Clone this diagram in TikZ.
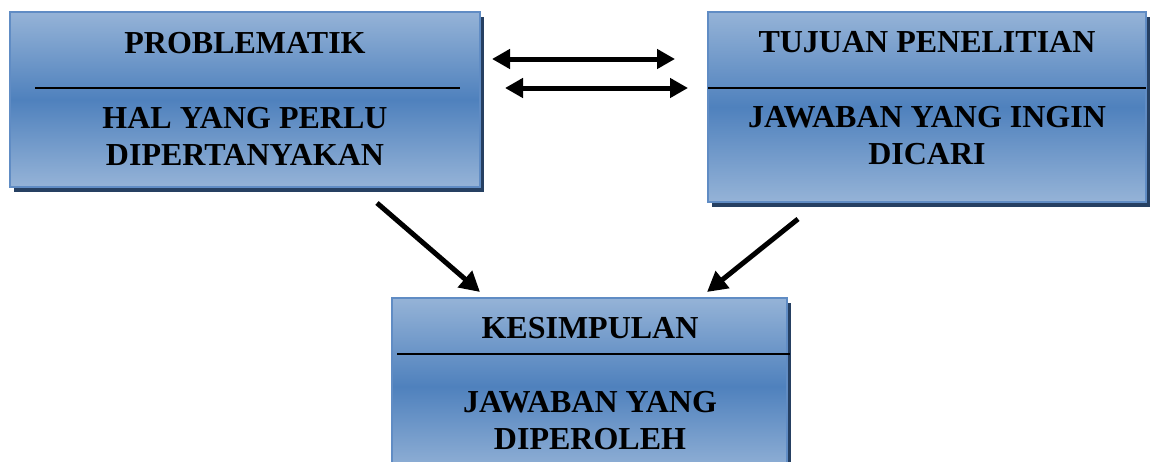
\documentclass[tikz,border=0pt]{standalone}
\usepackage{fontspec}
\setmainfont{Liberation Serif}
\usetikzlibrary{arrows.meta,shadows}
\definecolor{boxlight}{RGB}{149,179,215}
\definecolor{boxdark}{RGB}{79,129,189}
\definecolor{boxedge}{RGB}{96,140,196}
\definecolor{boxshadow}{RGB}{38,64,98}
\tikzset{
  panel/.style={rectangle, draw=boxedge, line width=1.2pt, inner sep=0pt,
    top color=boxlight, bottom color=boxlight, middle color=boxdark,
    drop shadow={shadow xshift=4pt, shadow yshift=-5pt, fill=boxshadow, opacity=1}},
  label/.style={font=\bfseries\fontsize{32}{37}\selectfont, align=center, inner sep=0pt},
  divider/.style={line width=1.8pt, black},
  link/.style={line width=5pt, -{Triangle[length=20pt,width=21pt]}},
  twoway/.style={line width=5pt, {Triangle[length=18pt,width=19pt]}-{Triangle[length=18pt,width=19pt]}}
}
\begin{document}
\begin{tikzpicture}[x=1pt,y=-1pt]
\useasboundingbox (0,0) rectangle (1152,461);
\clip (0,0) rectangle (1152,461);

% boxes
\node[panel, minimum width=470pt, minimum height=175pt] (prob) at (245,99.5) {};
\node[panel, minimum width=438pt, minimum height=190pt] (tuj) at (927,107) {};
\node[panel, minimum width=395pt, minimum height=177pt] (kes) at (589.5,386.5) {};

% left box contents
\node[label] (probT) at (245,43) {PROBLEMATIK};
\draw[divider] (35,88) coordinate (pl) -- (460,88) coordinate (pr);
\node[label] (probB) at (245,136) {HAL YANG PERLU\\DIPERTANYAKAN};

% right box contents
\node[label] (tujT) at (927,42) {TUJUAN PENELITIAN};
\draw[divider] (708,88) coordinate (tl) -- (1146,88) coordinate (tr);
\node[label] (tujB) at (927,136) {JAWABAN YANG INGIN\\DICARI};

% bottom box contents
\node[label] (kesT) at (590,328) {KESIMPULAN};
\draw[divider] (397,354) coordinate (kl) -- (790,354) coordinate (kr);
\node[label] (kesB) at (590,421) {JAWABAN YANG\\DIPEROLEH};

% connectors
\coordinate (a1) at (492,59);  \coordinate (a2) at (675,59);
\coordinate (b1) at (505,88);  \coordinate (b2) at (688,88);
\draw[twoway] (a1) -- (a2);
\draw[twoway] (b1) -- (b2);

\coordinate (d1) at (377,203); \coordinate (d2) at (480,292);
\coordinate (e1) at (798,219); \coordinate (e2) at (707,292);
\draw[link] (d1) -- (d2);
\draw[link] (e1) -- (e2);
\end{tikzpicture}
\end{document}
